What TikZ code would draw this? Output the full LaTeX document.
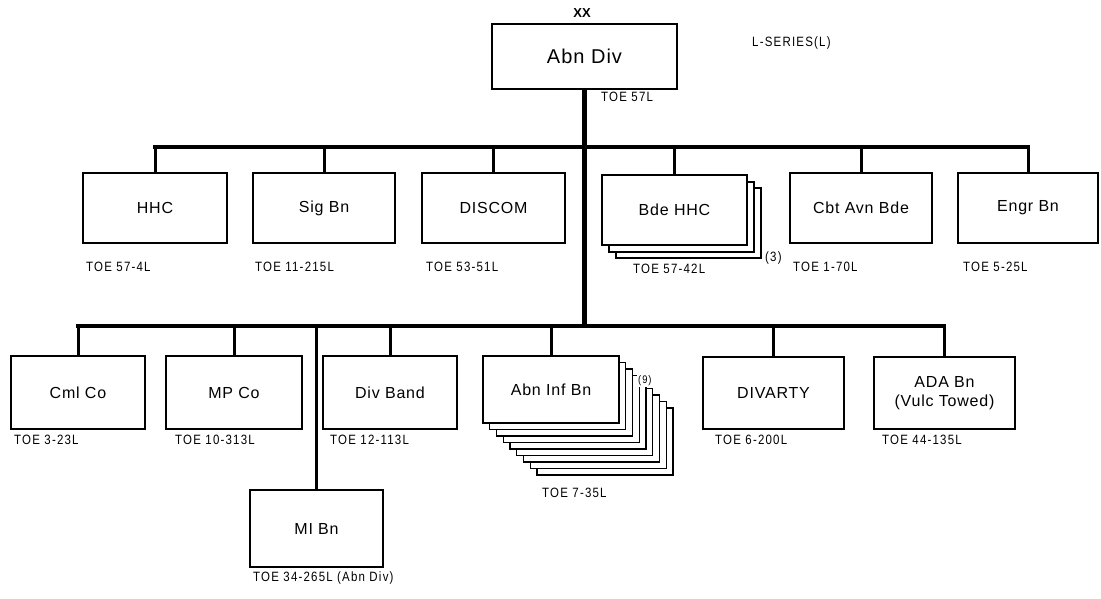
\documentclass[tikz,border=0pt]{standalone}
\usepackage{fontspec}
\setmainfont{Liberation Sans}
\newfontfamily\boxfont[LetterSpace=5]{Liberation Sans}
\newfontfamily\toefont[FakeStretch=0.85,LetterSpace=9]{Liberation Sans}
\usetikzlibrary{calc}
\tikzset{
  unit/.style 2 args={draw, line width=2.4pt, fill=white, inner sep=0pt,
    minimum width=#1, minimum height=#2, align=center,
    font=\boxfont\fontsize{16}{19}\selectfont},
  toe/.style={anchor=west, inner sep=0pt, font=\toefont\fontsize{13.5}{15}\selectfont},
  bus/.style={line width=3.6pt, line cap=rect},
  drop/.style={line width=3pt},
  trunk/.style={line width=4.6pt},
  copyline/.style={draw, line width=1.6pt, fill=white}
}
\begin{document}
\begin{tikzpicture}[x=1pt,y=-1pt]
\useasboundingbox (0,0) rectangle (1101,599);

% top node
\node[unit={185pt}{65pt}, font=\boxfont\fontsize{20}{22}\selectfont] (div) at (584.5,56.5) {Abn Div};
\node[font=\bfseries\fontsize{13}{14}\selectfont, inner sep=0pt] (xx) at (582,13) {XX};
\node[toe] (lser) at (752,43) {L-SERIES(L)};
\node[toe] (toediv) at (601,97) {TOE 57L};

% stacked copies behind Bde HHC
\foreach \dx/\dy in {14/13, 7/7}{
  \draw[copyline] (602+\dx,175+\dy) rectangle (747+\dx,245+\dy);
}
% stacked copies behind Abn Inf Bn
\foreach \k in {8,7,...,1}{
  \draw[copyline, line width=1.3pt] (483+6.75*\k,356+6.5*\k) rectangle (619+6.75*\k,423+6.5*\k);
}

% top row
\node[unit={144pt}{70pt}] (hhc) at (155,208) {HHC};
\node[unit={142pt}{70pt}] (sig) at (324,208) {Sig Bn};
\node[unit={143pt}{70pt}] (discom) at (493.5,208) {DISCOM};
\node[unit={145pt}{70pt}] (bde) at (674.5,210) {Bde HHC};
\node[unit={142pt}{70pt}] (cbt) at (861,208) {Cbt Avn Bde};
\node[unit={140pt}{70pt}] (engr) at (1028,208) {Engr Bn};

% bottom row
\node[unit={134pt}{73pt}] (cml) at (78,392.5) {Cml Co};
\node[unit={136pt}{73pt}] (mp) at (234,392.5) {MP Co};
\node[unit={134pt}{73pt}] (band) at (390,392.5) {Div Band};
\node[unit={136pt}{67pt}] (inf) at (551,389.5) {Abn Inf Bn};
\node[unit={141pt}{72pt}] (divarty) at (773.5,393) {DIVARTY};
\node[unit={141pt}{72pt}] (ada) at (944.5,393) {ADA Bn\\(Vulc Towed)};
\node[unit={133pt}{77pt}] (mi) at (316.5,528.5) {MI Bn};

% bus coordinates
\coordinate (tb) at (584.5,147);
\coordinate (bb) at (584.5,326);

% trunk
\draw[trunk] (div.south) -- (bb);
% top bus and drops
\draw[bus] (hhc.north |- tb) -- (engr.north |- tb);
\foreach \n in {hhc,sig,discom,bde,cbt,engr}{
  \draw[drop] (\n.north) -- (\n.north |- tb);
}
% bottom bus and drops
\draw[bus] (cml.north |- bb) -- (ada.north |- bb);
\foreach \n in {cml,mp,band,inf,divarty,ada}{
  \draw[drop] (\n.north) -- (\n.north |- bb);
}
\draw[drop] (mi.north) -- (mi.north |- bb);

% labels
\node[toe] (t1) at (86,267) {TOE 57-4L};
\node[toe] (t2) at (255,267) {TOE 11-215L};
\node[toe] (t3) at (426,267) {TOE 53-51L};
\node[toe] (t4) at (633,269) {TOE 57-42L};
\node[toe] (three) at (765,258) {(3)};
\node[toe] (t5) at (793,267) {TOE 1-70L};
\node[toe] (t6) at (963,267) {TOE 5-25L};

\node[toe] (b1) at (14,440) {TOE 3-23L};
\node[toe] (b2) at (175,440) {TOE 10-313L};
\node[toe] (b3) at (330,440) {TOE 12-113L};
\node[toe] (b4) at (542,493) {TOE 7-35L};
\node[toe, fill=white, inner sep=1pt, font=\toefont\fontsize{11}{12}\selectfont] (nine) at (637,381) {(9)};
\node[toe] (b5) at (715,440) {TOE 6-200L};
\node[toe] (b6) at (882,440) {TOE 44-135L};
\node[toe] (b7) at (253,578) {TOE 34-265L (Abn Div)};
\end{tikzpicture}
\end{document}
